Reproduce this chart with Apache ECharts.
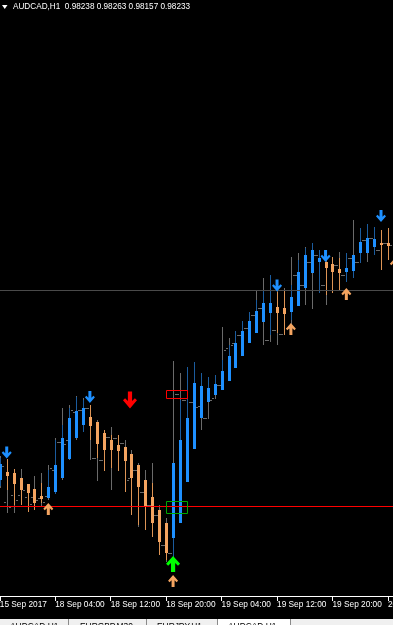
<!DOCTYPE html>
<html><head><meta charset="utf-8">
<script src="https://cdn.jsdelivr.net/npm/echarts@6/dist/echarts.min.js"></script>
<style>html,body{margin:0;padding:0;background:#000;}#c{width:393px;height:625px;}</style>
</head><body><div id="c"></div>
<script>
const categories = [
 "15 Sep 20:00","15 Sep 21:00","15 Sep 22:00","15 Sep 23:00",
 "18 Sep 00:00","18 Sep 01:00","18 Sep 02:00","18 Sep 03:00","18 Sep 04:00","18 Sep 05:00","18 Sep 06:00","18 Sep 07:00",
 "18 Sep 08:00","18 Sep 09:00","18 Sep 10:00","18 Sep 11:00","18 Sep 12:00","18 Sep 13:00","18 Sep 14:00","18 Sep 15:00",
 "18 Sep 16:00","18 Sep 17:00","18 Sep 18:00","18 Sep 19:00","18 Sep 20:00","18 Sep 21:00","18 Sep 22:00","18 Sep 23:00",
 "19 Sep 00:00","19 Sep 01:00","19 Sep 02:00","19 Sep 03:00","19 Sep 04:00","19 Sep 05:00","19 Sep 06:00","19 Sep 07:00",
 "19 Sep 08:00","19 Sep 09:00","19 Sep 10:00","19 Sep 11:00","19 Sep 12:00","19 Sep 13:00","19 Sep 14:00","19 Sep 15:00",
 "19 Sep 16:00","19 Sep 17:00","19 Sep 18:00","19 Sep 19:00","19 Sep 20:00","19 Sep 21:00","19 Sep 22:00","19 Sep 23:00",
 "20 Sep 00:00","20 Sep 01:00","20 Sep 02:00","20 Sep 03:00","20 Sep 04:00","20 Sep 05:00"
];
const tickLabels = ["15 Sep 2017","18 Sep 04:00","18 Sep 12:00","18 Sep 20:00","19 Sep 04:00","19 Sep 12:00","19 Sep 20:00","20 Sep 04:00"];

// Price bars (grey OHLC)
const barOpen = [0.97857,0.97809,0.97823,0.97823,0.97819,0.97819,0.97817,0.97821,0.97873,0.97929,0.97933,0.97989,0.97993,0.97997,0.97897,0.97893,0.97939,0.97937,0.97927,0.97857,0.97873,0.97829,0.97803,0.97783,0.97723,0.97707,0.98025,0.98013,0.98009,0.98001,0.97977,0.98017,0.98043,0.98117,0.98127,0.98143,0.98157,0.98183,0.98197,0.98133,0.98153,0.98145,0.98157,0.98263,0.98243,0.98289,0.98303,0.98243,0.98233,0.98283,0.98263,0.98297,0.98289,0.98333,0.98337,0.98313,0.98327];
const barHigh = [0.97901,0.97895,0.97875,0.97875,0.97845,0.97861,0.97867,0.97883,0.97937,0.97997,0.98003,0.98021,0.98017,0.98003,0.97973,0.97953,0.97959,0.97943,0.97933,0.97913,0.97887,0.97873,0.97887,0.97803,0.97777,0.98091,0.98067,0.98079,0.98089,0.98067,0.98059,0.98063,0.98159,0.98137,0.98151,0.98171,0.98189,0.98233,0.98257,0.98263,0.98233,0.98237,0.98299,0.98307,0.98319,0.98327,0.98313,0.98301,0.98299,0.98309,0.98307,0.98373,0.98357,0.98365,0.98359,0.98353,0.98357];
const barLow = [0.97837,0.97787,0.97787,0.97803,0.97789,0.97793,0.97799,0.97813,0.97825,0.97853,0.97893,0.97933,0.97949,0.97893,0.97851,0.97871,0.97833,0.97871,0.97829,0.97783,0.97759,0.97753,0.97739,0.97703,0.97689,0.97699,0.97989,0.97973,0.97953,0.97953,0.97975,0.98015,0.98033,0.98051,0.98077,0.98101,0.98127,0.98147,0.98123,0.98129,0.98123,0.98143,0.98153,0.98201,0.98203,0.98195,0.98227,0.98203,0.98227,0.98233,0.98249,0.98257,0.98287,0.98289,0.98303,0.98273,0.98293];
const barClose = [0.97881,0.97799,0.97813,0.97833,0.97805,0.97813,0.97809,0.97877,0.97929,0.97925,0.97993,0.97993,0.97997,0.97897,0.97893,0.97939,0.97937,0.97927,0.97853,0.97873,0.97829,0.97803,0.97783,0.97723,0.97707,0.98025,0.98013,0.98009,0.97999,0.97977,0.98013,0.98043,0.98113,0.98123,0.98143,0.98157,0.98183,0.98197,0.98133,0.98153,0.98145,0.98157,0.98263,0.98243,0.98289,0.98303,0.98243,0.98233,0.98283,0.98263,0.98297,0.98289,0.98333,0.98337,0.98313,0.98327,0.98323];

// Heiken Ashi candles (coloured)
const haOpen = [0.97853,0.97869,0.97867,0.97857,0.97845,0.97835,0.97821,0.97817,0.97829,0.97857,0.97895,0.97937,0.97963,0.97979,0.97969,0.97947,0.97933,0.97923,0.97919,0.97905,0.97883,0.97853,0.97819,0.97793,0.97767,0.97737,0.97767,0.97849,0.97915,0.97977,0.98009,0.98023,0.98033,0.98051,0.98077,0.98101,0.98127,0.98147,0.98169,0.98187,0.98199,0.98197,0.98189,0.98201,0.98237,0.98267,0.98289,0.98289,0.98285,0.98275,0.98269,0.98271,0.98307,0.98307,0.98319,0.98327,0.98327];
const haClose = [0.97885,0.97861,0.97845,0.97833,0.97827,0.97807,0.97815,0.97839,0.97883,0.97937,0.97977,0.97991,0.97997,0.97961,0.97925,0.97913,0.97913,0.97911,0.97891,0.97857,0.97839,0.97799,0.97767,0.97729,0.97707,0.97887,0.97933,0.97977,0.98047,0.98041,0.98037,0.98045,0.98071,0.98101,0.98127,0.98151,0.98171,0.98191,0.98207,0.98207,0.98187,0.98185,0.98219,0.98269,0.98303,0.98313,0.98297,0.98277,0.98269,0.98267,0.98277,0.98303,0.98329,0.98337,0.98335,0.98323,0.98321];
const haHigh = [0.97897,0.97895,0.97875,0.97857,0.97845,0.97835,0.97847,0.97873,0.97933,0.97963,0.97997,0.98019,0.98013,0.98003,0.97969,0.97953,0.97943,0.97943,0.97919,0.97905,0.97883,0.97853,0.97847,0.97793,0.97767,0.97887,0.98013,0.98079,0.98089,0.98067,0.98059,0.98063,0.98093,0.98123,0.98151,0.98171,0.98189,0.98213,0.98233,0.98263,0.98229,0.98233,0.98243,0.98293,0.98317,0.98327,0.98313,0.98289,0.98299,0.98297,0.98307,0.98303,0.98357,0.98365,0.98359,0.98353,0.98357];
const haLow = [0.97841,0.97833,0.97803,0.97803,0.97789,0.97793,0.97807,0.97817,0.97825,0.97857,0.97895,0.97937,0.97949,0.97933,0.97897,0.97871,0.97877,0.97871,0.97829,0.97783,0.97763,0.97753,0.97739,0.97703,0.97693,0.97699,0.97767,0.97849,0.97915,0.97977,0.98009,0.98023,0.98033,0.98051,0.98077,0.98101,0.98127,0.98147,0.98169,0.98143,0.98147,0.98143,0.98173,0.98201,0.98237,0.98267,0.98227,0.98223,0.98227,0.98233,0.98249,0.98257,0.98287,0.98307,0.98303,0.98273,0.98293];

// Signal arrows
const sellArrowTimes = ["15 Sep 21:00","18 Sep 09:00","19 Sep 12:00","19 Sep 19:00","20 Sep 03:00"];
const sellArrowPrices = [0.97908,0.98019,0.98242,0.98301,0.98381];
const buyArrowTimes = ["18 Sep 03:00","18 Sep 21:00","19 Sep 14:00","19 Sep 22:00","20 Sep 05:00"];
const buyArrowPrices = [0.97795,0.97651,0.98155,0.98225,0.98285];
const bigSellTimes = ["18 Sep 15:00"];
const bigSellPrices = [0.98013];
const bigBuyTimes = ["18 Sep 21:00"];
const bigBuyPrices = [0.97685];

// Horizontal levels and boxes
const bidLevel = 0.98233;
const redLevel = 0.97801;
const boxStart = ["18 Sep 20:00","18 Sep 20:00"];
const boxEnd = ["18 Sep 23:00","18 Sep 23:00"];
const boxTop = [0.98033,0.97811];
const boxBottom = [0.98017,0.97787];

const priceMin = 0.97621, priceMax = 0.98813;

const BLUE='#1e90ff', ORANGE='#f4a460', BLUE_WICK='#1b5c9e', ORANGE_WICK='#dd9455', GREY='#6a6a6a';
const boxColors=['#ff0000','#00a800'];
const downPath='path://M3.5 0H6.5V6.5L8.5 4.5L10 6L5 11.5L0 6L1.5 4.5L3.5 6.5Z';
const upPath='path://M3.5 12H6.5V5.5L8.5 7.5L10 6L5 0.5L0 6L1.5 7.5L3.5 5.5Z';

const barData = barOpen.map((o,i)=>[i,o,barHigh[i],barLow[i],barClose[i]]);
const haData = haOpen.map((o,i)=>[i,o,haClose[i],haHigh[i],haLow[i]]);
const boxData = boxStart.map((s,i)=>[categories.indexOf(s),categories.indexOf(boxEnd[i]),boxTop[i],boxBottom[i]]);

// a 1px filled rect is used for thin lines (pixel crisp)
const vbar = (x,y1,y2,color)=>{const a=Math.round(Math.min(y1,y2)), b=Math.round(Math.max(y1,y2));
  return {type:'rect', shape:{x:x, y:a, width:1, height:Math.max(1,b-a)}, style:{fill:color}};};
const hbar = (x1,x2,y,color)=>({type:'rect', shape:{x:x1, y:Math.round(y), width:x2-x1, height:1}, style:{fill:color}});

function levelSeries(name, value, color){
  return {
    type:'custom', name:name, data:[[0,value]], z:3, itemStyle:{color:color},
    encode:{x:0, y:1},
    renderItem:(p,api)=>{
      const y=api.coord([0,api.value(1)])[1];
      const cs=p.coordSys;
      return hbar(cs.x, cs.x+cs.width, y, color);
    }
  };
}

const chart = echarts.init(document.getElementById('c'), null, {renderer:'canvas', width:393, height:625});
chart.setOption({
  animation:false,
  backgroundColor:'#000000',
  grid:{left:-3.67, right:-5.33, top:0, bottom:29, containLabel:false, outerBoundsMode:'none'},
  xAxis:{
    type:'category', data:categories, boundaryGap:true,
    axisLine:{show:true, lineStyle:{color:'#ffffff', width:1}},
    axisTick:{show:true, interval:7, alignWithLabel:true, length:5, lineStyle:{color:'#ffffff'}},
    axisLabel:{interval:7, color:'#ffffff', fontSize:8.3, fontFamily:'Liberation Sans', align:'left', margin:5,
      formatter:(v,i)=>tickLabels[Math.round(i/8)] || ''},
    splitLine:{show:false}
  },
  yAxis:{type:'value', min:priceMin, max:priceMax, show:false, splitLine:{show:false}},
  series:[
    {
      type:'custom', name:'bars', data:barData, z:1, itemStyle:{color:GREY},
      encode:{x:0, y:[1,2,3,4]},
      renderItem:(p,api)=>{
        const i=api.value(0);
        const o=api.coord([i,api.value(1)]), h=api.coord([i,api.value(2)]), l=api.coord([i,api.value(3)]), c=api.coord([i,api.value(4)]);
        const x=Math.round(o[0]);
        return {type:'group', children:[
          vbar(x,h[1],l[1],GREY),
          hbar(x-3,x-1,o[1],GREY),
          hbar(x+2,x+4,c[1],GREY)
        ]};
      }
    },
    {
      type:'custom', name:'heikenashi', data:haData, z:2,
      encode:{x:0, y:[1,2,3,4]},
      renderItem:(p,api)=>{
        const i=api.value(0);
        const oV=api.value(1), cV=api.value(2);
        const o=api.coord([i,oV]), c=api.coord([i,cV]), h=api.coord([i,api.value(3)]), l=api.coord([i,api.value(4)]);
        const bull=cV>=oV;
        const xc=Math.round(o[0]);
        const top=Math.round(Math.min(o[1],c[1])), bot=Math.round(Math.max(o[1],c[1]));
        return {type:'group', children:[
          vbar(xc,h[1],l[1],bull?BLUE_WICK:ORANGE_WICK),
          {type:'rect', shape:{x:xc-1, y:top, width:3, height:Math.max(1,bot-top)}, style:{fill:bull?BLUE:ORANGE}}
        ]};
      }
    },
    levelSeries('bidLine', bidLevel, '#4a4a4a'),
    levelSeries('redLine', redLevel, '#ff0000'),
    {
      type:'custom', name:'boxes', data:boxData, z:4,
      encode:{x:[0,1], y:[2,3]},
      renderItem:(p,api)=>{
        const a=api.coord([api.value(0),api.value(2)]), b=api.coord([api.value(1),api.value(3)]);
        return {type:'rect', shape:{x:Math.round(a[0])+0.5, y:Math.round(a[1])+0.5, width:Math.round(b[0]-a[0]), height:Math.round(b[1]-a[1])},
          style:{fill:'none', stroke:boxColors[p.dataIndex], lineWidth:1}};
      }
    },
    {type:'scatter', name:'sell', z:5, data:sellArrowTimes.map((t,i)=>[t,sellArrowPrices[i]]),
      symbol:downPath, symbolSize:[10,12], itemStyle:{color:BLUE, opacity:1}},
    {type:'scatter', name:'buy', z:5, data:buyArrowTimes.map((t,i)=>[t,buyArrowPrices[i]]),
      symbol:upPath, symbolSize:[10,12], itemStyle:{color:ORANGE, opacity:1}},
    {type:'scatter', name:'bigSell', z:5, data:bigSellTimes.map((t,i)=>[t,bigSellPrices[i]]),
      symbol:downPath, symbolSize:[14,17], symbolOffset:[-1.5,0], itemStyle:{color:'#ff0000', opacity:1}},
    {type:'scatter', name:'bigBuy', z:5, data:bigBuyTimes.map((t,i)=>[t,bigBuyPrices[i]]),
      symbol:upPath, symbolSize:[14,16], itemStyle:{color:'#00ff00', opacity:1}}
  ],
  graphic:[
    {type:'polygon', shape:{points:[[2,5],[7.5,5],[4.75,9]]}, style:{fill:'#ffffff'}},
    {type:'text', left:13, top:3, style:{text:'AUDCAD,H1  0.98238 0.98263 0.98157 0.98233', fill:'#ffffff', fontSize:8.2, fontFamily:'Liberation Sans'}},
    {type:'rect', shape:{x:0,y:619,width:393,height:6}, style:{fill:'#f0f0f0'}},
    {type:'rect', shape:{x:217,y:619,width:73,height:6}, style:{fill:'#ffffff'}},
    {type:'line', shape:{x1:68.5,y1:619,x2:68.5,y2:625}, style:{stroke:'#8a8a8a'}},
    {type:'line', shape:{x1:146.5,y1:619,x2:146.5,y2:625}, style:{stroke:'#8a8a8a'}},
    {type:'line', shape:{x1:217.5,y1:619,x2:217.5,y2:625}, style:{stroke:'#8a8a8a'}},
    {type:'line', shape:{x1:290.5,y1:619,x2:290.5,y2:625}, style:{stroke:'#8a8a8a'}},
    {type:'text', x:10, y:623, style:{text:'AUDCAD,H1', fill:'#000', fontSize:8.4, fontFamily:'Liberation Sans'}},
    {type:'text', x:80, y:623, style:{text:'EURGBP,M30', fill:'#000', fontSize:8.4, fontFamily:'Liberation Sans'}},
    {type:'text', x:157, y:623, style:{text:'EURJPY,H1', fill:'#000', fontSize:8.4, fontFamily:'Liberation Sans'}},
    {type:'text', x:228, y:623, style:{text:'AUDCAD,H1', fill:'#000', fontSize:8.4, fontFamily:'Liberation Sans'}}
  ]
});
</script></body></html>
